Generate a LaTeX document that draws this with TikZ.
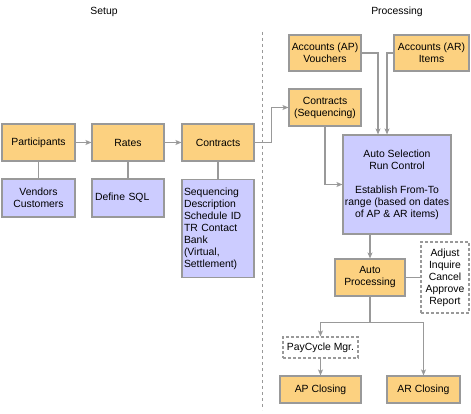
\documentclass[tikz,border=0pt]{standalone}
\usepackage{fontspec}
\setmainfont{Liberation Sans}
\usetikzlibrary{arrows.meta}
\definecolor{boxorange}{RGB}{252,209,128}
\definecolor{boxlav}{RGB}{204,204,255}
\definecolor{linegray}{RGB}{153,153,153}
\tikzset{
  base/.style={draw=linegray, line width=1.1pt, inner sep=2pt, font=\fontsize{10.4}{12}\selectfont},
  obox/.style={base, fill=boxorange, align=center},
  lbox/.style={base, fill=boxlav, align=center},
  dbox/.style={base, dashed, dash pattern=on 3pt off 2pt, fill=white, align=center},
  conn/.style={draw=linegray, line width=1.1pt},
  arr/.style={conn, -{Stealth[length=6pt,width=5pt,inset=1.5pt]}},
  title/.style={font=\fontsize{10.4}{12}\selectfont}
}
\begin{document}
\begin{tikzpicture}[x=1pt,y=-1pt]
\useasboundingbox (0,0) rectangle (471,414);
\node[title] (setup) at (104,12) {Setup};
\node[title] (proc) at (397,12) {Processing};
\coordinate (sepa) at (262,32);
\coordinate (sepb) at (262,410);
\draw[linegray, line width=1pt, dash pattern=on 3pt off 3pt] (sepa) -- (sepb);

\node[obox, minimum width=72pt, minimum height=36pt] (apv) at (325,53) {Accounts (AP)\\Vouchers};
\node[obox, minimum width=75pt, minimum height=36pt] (ari) at (431.5,53) {Accounts (AR)\\Items};
\node[obox, minimum width=72pt, minimum height=37pt] (cseq) at (325,107.5) {Contracts\\(Sequencing)};

\node[obox, minimum width=73pt, minimum height=37pt] (part) at (38.5,142.5) {Participants};
\node[obox, minimum width=72pt, minimum height=37pt] (rates) at (128,142.5) {Rates};
\node[obox, minimum width=72pt, minimum height=37pt] (contr) at (218,142.5) {Contracts};

\node[lbox, minimum width=73pt, minimum height=38pt] (vend) at (38.5,198) {Vendors\\Customers};
\node[lbox, minimum width=72pt, minimum height=38pt, text width=66pt, align=left] (sql) at (128,198) {Define SQL};
\node[lbox, minimum width=72pt, minimum height=98pt, text width=68pt, align=left, anchor=north] (det) at (218,179) {Sequencing\\Description\\Schedule ID\\TR Contact\\Bank\\(Virtual,\\Settlement)};

\node[lbox, minimum width=106pt, minimum height=99pt] (asel) at (397,184.5) {Auto Selection\\Run Control\\[12pt]Establish From-To\\range (based on dates\\of AP \& AR items)};
\node[obox, minimum width=70pt, minimum height=37pt] (aproc) at (370,277.5) {Auto\\Processing};
\node[dbox, minimum width=48pt, minimum height=71pt] (adj) at (445,277.5) {Adjust\\Inquire\\Cancel\\Approve\\Report};
\node[dbox, minimum width=75pt, minimum height=21pt] (pay) at (320.5,347.5) {PayCycle Mgr.};
\node[obox, minimum width=81pt, minimum height=27pt] (apc) at (320.5,389.5) {AP Closing};
\node[obox, minimum width=73pt, minimum height=27pt] (arc) at (423.5,389.5) {AR Closing};

% setup connectors
\draw[arr] (part) -- (rates);
\draw[arr] (rates) -- (contr);
\draw[conn] (part) -- (vend);
\draw[conn] (rates) -- (sql);
\draw[conn] (contr) -- (det);
\draw[arr] (contr.east) -- ++(17,0) |- (cseq.west);

% processing connectors
\draw[arr] (apv.east) -| ([xshift=-19pt]asel.north);
\draw[arr] (ari.west) -| ([xshift=-10pt]asel.north);
\draw[arr] (cseq.south) |- (asel.west);
\draw[arr] (aproc.north |- asel.south) -- (aproc.north);
\draw[conn] (aproc) -- (adj);
\coordinate (split) at ([yshift=-26pt]aproc.south);
\draw[conn] (aproc.south) -- (split);
\draw[arr] (split) -| (pay.north);
\draw[arr] (split) -| (arc.north);
\draw[arr] (pay) -- (apc);
\end{tikzpicture}
\end{document}
